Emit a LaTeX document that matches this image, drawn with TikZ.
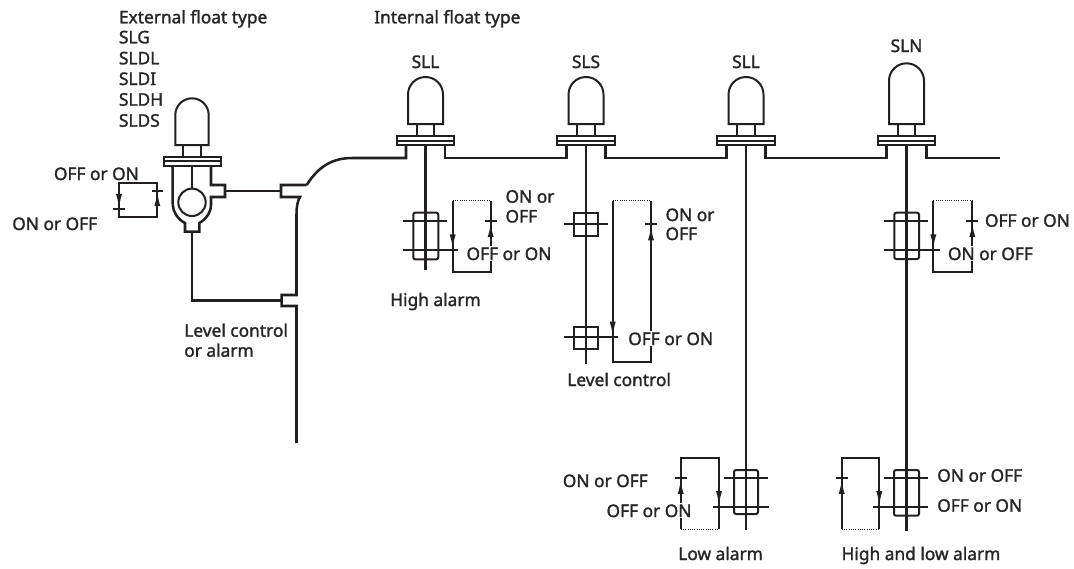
\documentclass[tikz,border=0pt]{standalone}
\usepackage{fontspec}
\setmainfont{Noto Sans}[FakeBold=1.6]
\usetikzlibrary{arrows.meta}
\definecolor{ink}{RGB}{35,31,32}
\tikzset{every picture/.style={line width=1.9pt}}
\tikzset{
  thinpart/.style={line width=1.5pt},
  faintline/.style={line width=0.7pt, densely dotted},
  swarrow/.style={line width=1.4pt, -{Latex[length=11pt,width=4.6pt]}},
  lbl/.style={font=\fontsize{13}{15}\selectfont, text=black!85, inner sep=0.75pt},
}
\begin{document}
\begin{tikzpicture}[x=0.75pt,y=0.75pt,yscale=-1,xscale=1,draw=ink]
\useasboundingbox (0,0) rectangle (1074,568);

%Shape: Tank top [id:tanktop]
\draw (306.7,185) .. controls (318,167) and (332,158) .. (352,158) -- (406,158) -- (406,145) ;
\draw (445,145) -- (445,158) -- (566.5,158) -- (566.5,145) ;
\draw (605.5,145) -- (605.5,158) -- (726.5,158) -- (726.5,145) ;
\draw (765.5,145) -- (765.5,158) -- (886.5,158) -- (886.5,145) ;
\draw (926.5,145) -- (926.5,158) -- (1000,158) ;
%Shape: Tank wall with nozzles [id:tankwall]
\draw (306.7,185) -- (281,185) -- (281,197) -- (300,197) .. controls (297.5,201) and (296.5,207) .. (296.5,214) -- (296.5,295) -- (281.7,295) -- (281.7,306) -- (296.5,306) -- (296.5,443) ;

%Straight Lines [id:pipes]
\draw (225,191) -- (281,191) ;
\draw (192,231.7) -- (192,300.7) -- (281.7,300.7) ;

%Shape: External chamber [id:extchamber]
\draw (172.7,166) -- (172.7,203) .. controls (172.7,213) and (179,220) .. (185,223) -- (185,231.7) -- (199.3,231.7) -- (199.3,223) .. controls (205,220) and (211,213) .. (211,205) -- (211,197) -- (225,197) -- (225,185) -- (211,185) -- (211,166) ;
\draw [thinpart] (192,202.3) circle (13.7) ;
\draw [thinpart] (192,166) -- (192,188.6) ;
%Shape: External head [id:exthead]
\draw [thinpart] (175.3,145) -- (175.3,115) arc (180:360:16.7) -- (208.7,145) -- cycle ;
\draw [thinpart] (183.3,145) -- (183.3,156.7) (200.7,145) -- (200.7,156.7) ;
\draw [thinpart] (163.5,156.7) rectangle (220.5,166) (163.5,161.3) -- (220.5,161.3) ;
%Shape: External switch [id:extswitch]
\draw [thinpart] (119,182.7) rectangle (157.3,217.3) ;
\draw [thinpart] (113,209.3) -- (125,209.3) (151.7,190.7) -- (162.7,190.7) ;
\draw [swarrow] (119,192) -- (119,208.5) ;
\draw [swarrow] (157.3,208) -- (157.3,191.5) ;

%Shape: SLL head [id:sllhead]
\draw [thinpart] (408,124) -- (408,94.5) arc (180:360:17.5) -- (443,124) -- cycle ;
\draw [thinpart] (416.8,124) -- (416.8,136) (434.2,124) -- (434.2,136) ;
\draw [thinpart] (396.8,136) rectangle (454.2,145) (396.8,140.5) -- (454.2,140.5) ;
\draw (425.5,145) -- (425.5,270) ;
%Shape: SLL float and switch [id:sllfloat]
\draw [thinpart, rounded corners=1.5pt] (413.3,212.7) rectangle (438.3,259.3) ;
\draw [thinpart] (403.3,221) -- (447.3,221) (403.3,250) -- (458.3,250) ;
\draw [thinpart] (452.7,200.7) -- (452.7,271.7) -- (490.7,271.7) -- (490.7,200.7) ;
\draw [faintline] (452.7,200.7) -- (490.7,200.7) ;
\draw [thinpart] (485,221) -- (496.7,221) ;
\draw [swarrow] (490.7,240) -- (490.7,222.5) ;
\draw [swarrow] (452.7,231) -- (452.7,249) ;

%Shape: SLS head [id:slshead]
\draw [thinpart] (568.5,124) -- (568.5,94.5) arc (180:360:17.5) -- (603.5,124) -- cycle ;
\draw [thinpart] (577.3,124) -- (577.3,136) (594.7,124) -- (594.7,136) ;
\draw [thinpart] (557.3,136) rectangle (614.7,145) (557.3,140.5) -- (614.7,140.5) ;
\draw (586,145) -- (586,364) ;
%Shape: SLS floats and switch [id:slsfloat]
\draw [thinpart] (574,213.3) rectangle (598.3,236) (574,326.7) rectangle (598.3,349.3) ;
\draw [thinpart] (564,224.3) -- (607.7,224.3) (564,337.3) -- (618.3,337.3) ;
\draw [thinpart] (612.7,200.7) -- (612.7,361.7) -- (651,361.7) -- (651,200.7) ;
\draw [faintline] (612.7,200.7) -- (651,200.7) ;
\draw [thinpart] (645,224.3) -- (656.7,224.3) ;
\draw [swarrow] (651,243) -- (651,225.8) ;
\draw [swarrow] (612.7,319) -- (612.7,336.3) ;

%Shape: SLL low head [id:sllhead2]
\draw [thinpart] (728.5,124) -- (728.5,94.5) arc (180:360:17.5) -- (763.5,124) -- cycle ;
\draw [thinpart] (737.3,124) -- (737.3,136) (754.7,124) -- (754.7,136) ;
\draw [thinpart] (717.3,136) rectangle (774.7,145) (717.3,140.5) -- (774.7,140.5) ;
\draw (746,145) -- (746,530) ;
%Shape: SLL low float and switch [id:sllfloat2]
\draw [thinpart, rounded corners=1.5pt] (734,470) rectangle (758,514) ;
\draw [thinpart] (724,478) -- (768.3,478) (713.3,506.7) -- (769,506.7) ;
\draw [thinpart] (719,529) -- (719,457.7) -- (680.7,457.7) -- (680.7,529) ;
\draw [faintline] (680.7,529) -- (719,529) ;
\draw [thinpart] (675,478) -- (687.3,478) ;
\draw [swarrow] (680.7,496) -- (680.7,479.3) ;
\draw [swarrow] (719,488) -- (719,505.7) ;

%Shape: SLN head [id:slnhead]
\draw [thinpart] (889,124) -- (889,80.8) arc (180:360:17.5) -- (924,124) -- cycle ;
\draw [thinpart] (897.8,124) -- (897.8,136) (915.2,124) -- (915.2,136) ;
\draw [thinpart] (877.8,136) rectangle (935.2,145) (877.8,140.5) -- (935.2,140.5) ;
\draw (906.5,145) -- (906.5,530.7) ;
%Shape: SLN upper float and switch [id:slnfloat]
\draw [thinpart, rounded corners=1.5pt] (894.3,212.7) rectangle (919,259) ;
\draw [thinpart] (884.3,221) -- (928.3,221) (884.3,250) -- (940,250) ;
\draw [thinpart] (933.3,200.7) -- (933.3,271.7) -- (972.3,271.7) -- (972.3,200.7) ;
\draw [faintline] (933.3,200.7) -- (972.3,200.7) ;
\draw [thinpart] (966,221) -- (977.7,221) ;
\draw [swarrow] (972.3,240) -- (972.3,222.5) ;
\draw [swarrow] (933.3,231) -- (933.3,249) ;
%Shape: SLN lower float and switch [id:slnfloat2]
\draw [thinpart, rounded corners=1.5pt] (894,470) rectangle (919,515.7) ;
\draw [thinpart] (884.3,478) -- (928.3,478) (873.3,506.7) -- (928.3,506.7) ;
\draw [thinpart] (879.3,529) -- (879.3,457.7) -- (841.7,457.7) -- (841.7,529) ;
\draw [faintline] (841.7,529) -- (879.3,529) ;
\draw [thinpart] (835.7,478) -- (847.7,478) ;
\draw [swarrow] (841.7,496) -- (841.7,479.3) ;
\draw [swarrow] (879.3,488) -- (879.3,505.7) ;

% Text Node
\draw (116.7,23.3) node [anchor=base west][lbl] (extTitle) {External float type};
% Text Node
\draw (116.7,43.3) node [anchor=base west][lbl] (extSLG) {SLG};
% Text Node
\draw (116.7,64.3) node [anchor=base west][lbl] (extSLDL) {SLDL};
% Text Node
\draw (116.7,85) node [anchor=base west][lbl] (extSLDI) {SLDI};
% Text Node
\draw (116.7,105.7) node [anchor=base west][lbl] (extSLDH) {SLDH};
% Text Node
\draw (116.7,126.7) node [anchor=base west][lbl] (extSLDS) {SLDS};
% Text Node
\draw (372,23.3) node [anchor=base west][lbl] (intTitle) {Internal float type};
% Text Node
\draw (425.5,68) node [anchor=base][lbl] (sllName) {SLL};
% Text Node
\draw (586,68) node [anchor=base][lbl] (slsName) {SLS};
% Text Node
\draw (746,68) node [anchor=base][lbl] (sllNameB) {SLL};
% Text Node
\draw (906.5,52) node [anchor=base][lbl] (slnName) {SLN};
% Text Node
\draw (51.7,180) node [anchor=base west][lbl] (extOffOn) {OFF or ON};
% Text Node
\draw (10,230) node [anchor=base west][lbl] (extOnOff) {ON or OFF};
% Text Node
\draw (182,336.7) node [anchor=base west][lbl] (extCtrl) {Level control};
% Text Node
\draw (182,356.7) node [anchor=base west][lbl] (extAlarm) {or alarm};
% Text Node
\draw (503.3,202.7) node [anchor=base west][lbl] (sllOnOr) {ON or};
% Text Node
\draw (503.3,222.5) node [anchor=base west][lbl] (sllOff) {OFF};
% Text Node
\draw (464.3,260) node [anchor=base west][lbl, fill=white] (sllOffOn) {OFF or ON};
% Text Node
\draw (388,306) node [anchor=base west][lbl] (sllCaption) {High alarm};
% Text Node
\draw (663.3,221) node [anchor=base west][lbl] (slsOnOr) {ON or};
% Text Node
\draw (663.3,240) node [anchor=base west][lbl] (slsOff) {OFF};
% Text Node
\draw (626,345) node [anchor=base west][lbl, fill=white] (slsOffOn) {OFF or ON};
% Text Node
\draw (565,386) node [anchor=base west][lbl] (slsCaption) {Level control};
% Text Node
\draw (650,487) node [anchor=base east][lbl] (sllbOnOff) {ON or OFF};
% Text Node
\draw (604.3,517) node [anchor=base west][lbl, fill=white] (sllbOffOn) {OFF or ON};
% Text Node
\draw (676,560) node [anchor=base west][lbl] (sllbCaption) {Low alarm};
% Text Node
\draw (982.7,226.7) node [anchor=base west][lbl] (slnOffOn) {OFF or ON};
% Text Node
\draw (945.7,260) node [anchor=base west][lbl, fill=white] (slnOnOff) {ON or OFF};
% Text Node
\draw (935,481.7) node [anchor=base west][lbl] (slnbOnOff) {ON or OFF};
% Text Node
\draw (935,511.7) node [anchor=base west][lbl] (slnbOffOn) {OFF or ON};
% Text Node
\draw (839.3,560) node [anchor=base west][lbl] (slnbCaption) {High and low alarm};

\end{tikzpicture}
\end{document}
